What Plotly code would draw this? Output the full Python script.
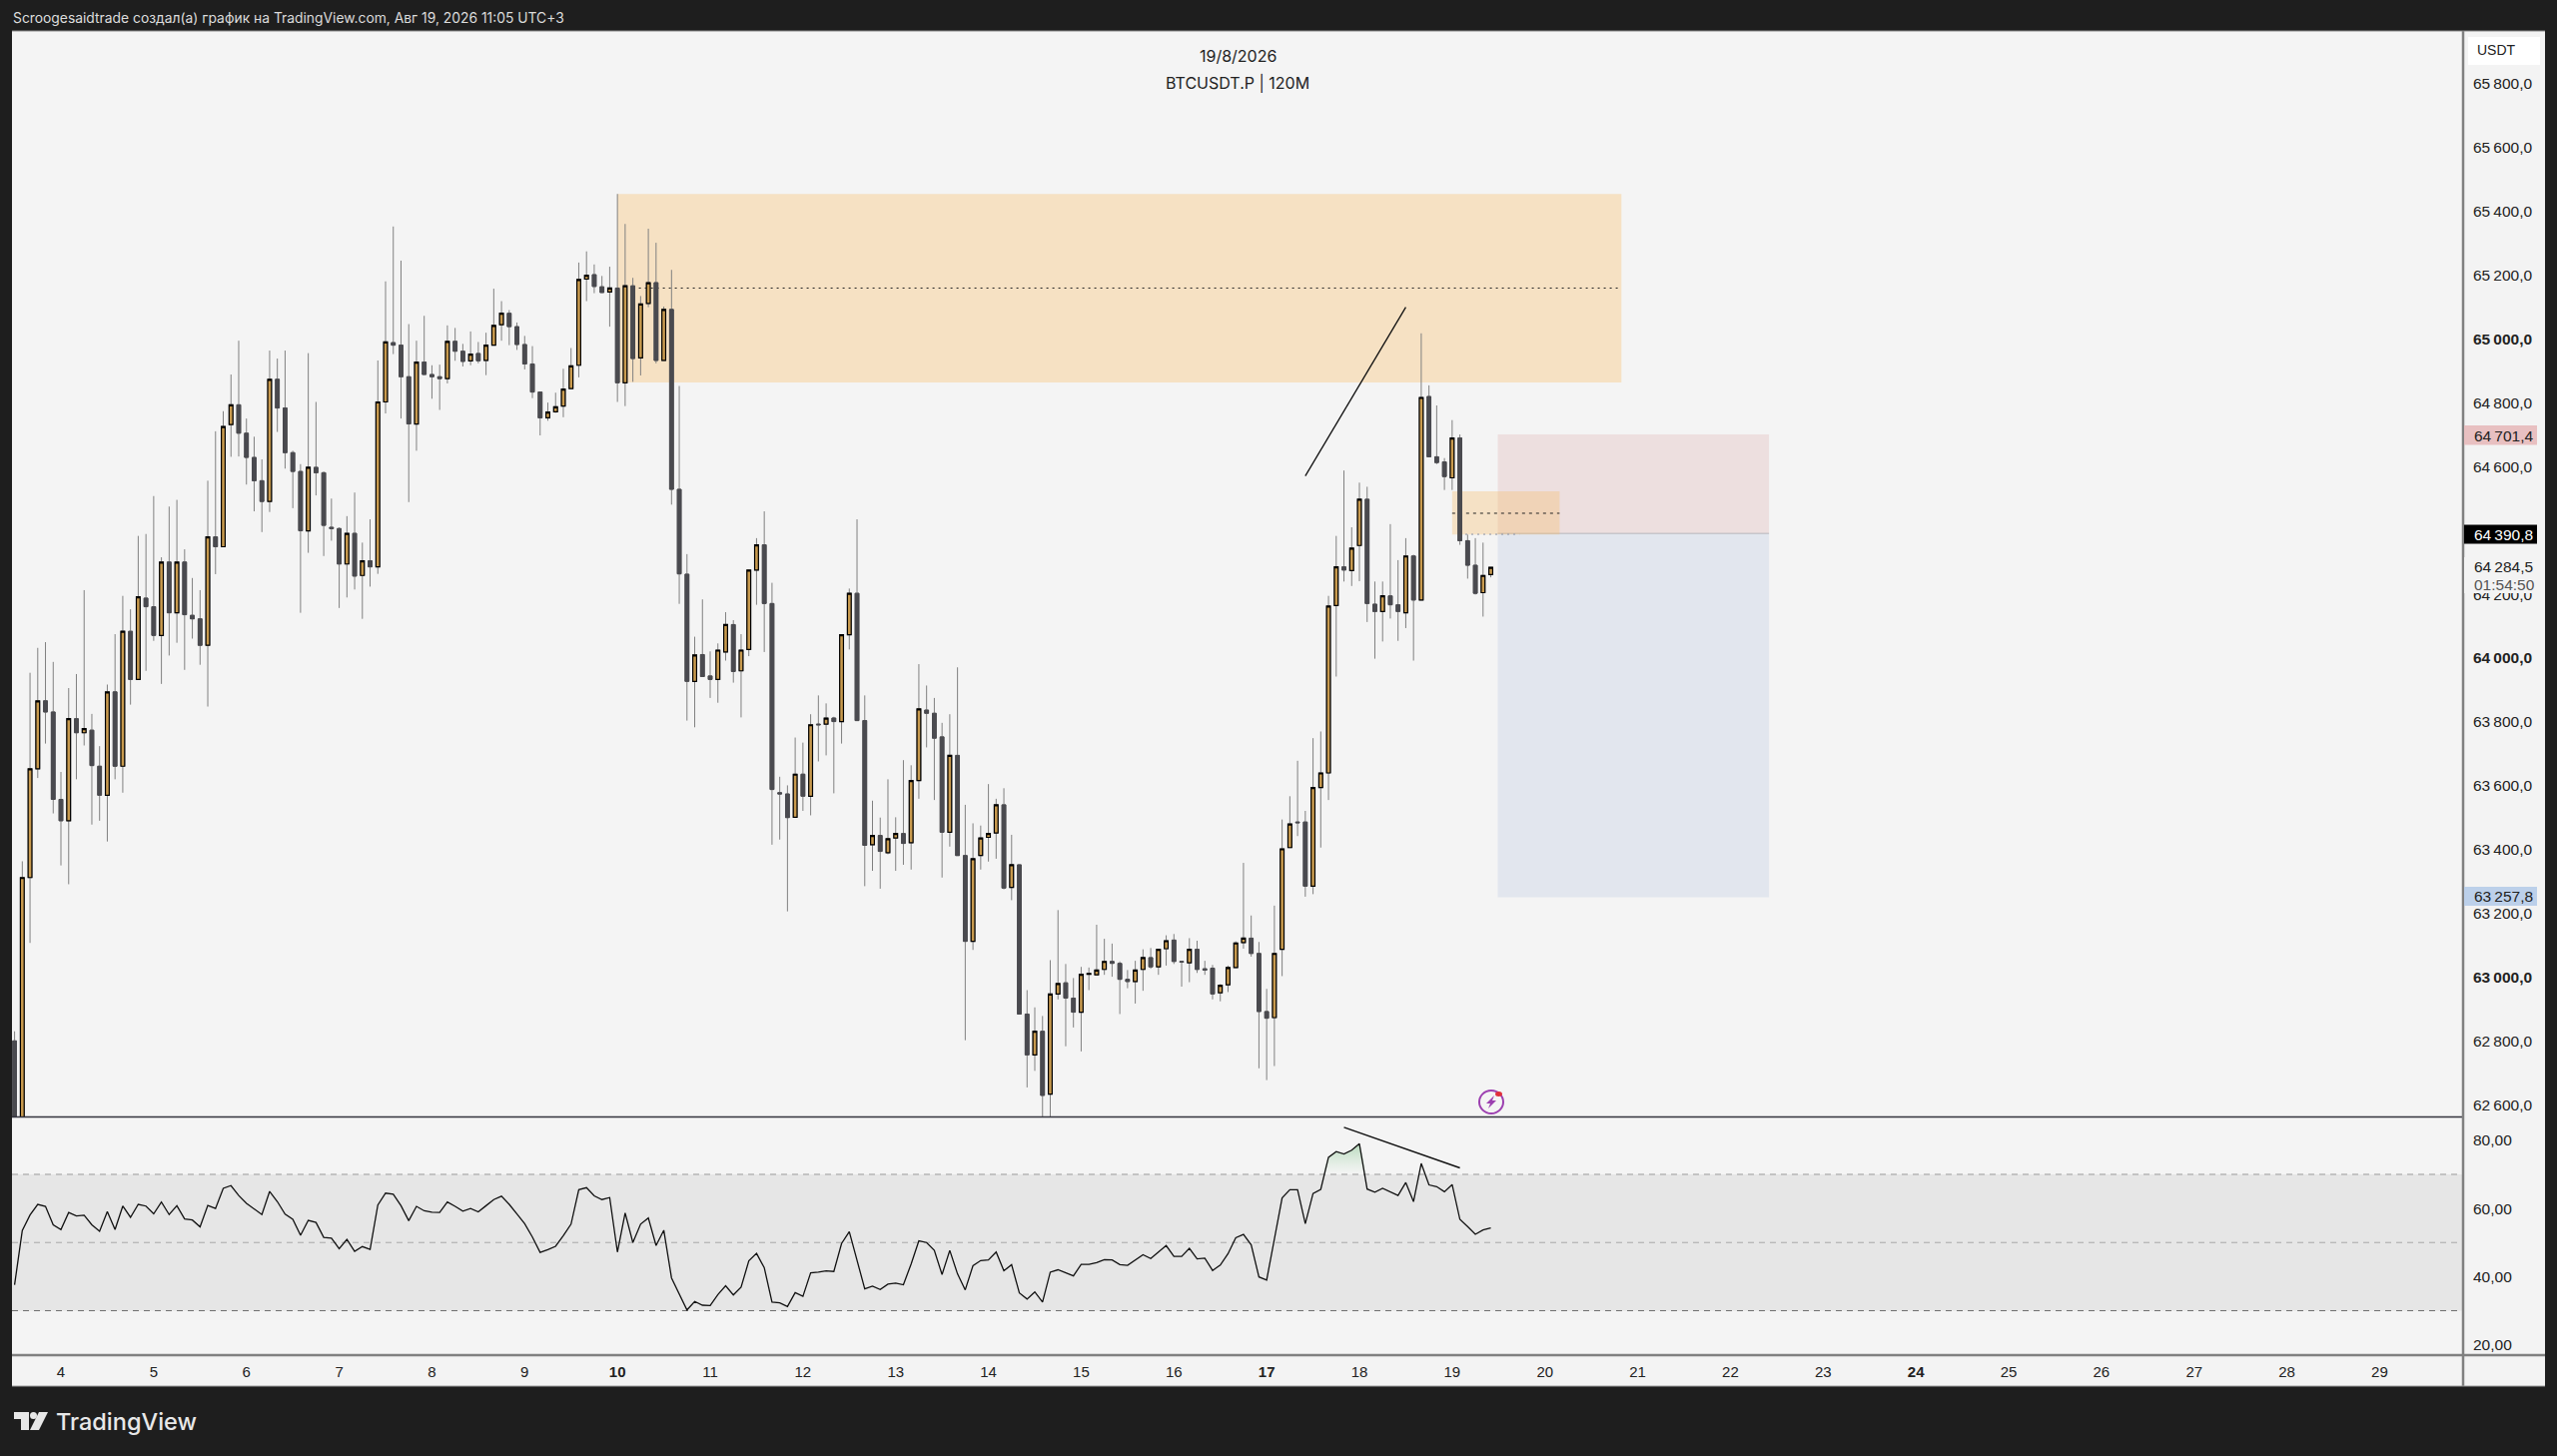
import numpy as np
import pandas as pd
import plotly.graph_objects as go

# 120M свечи BTCUSDT.P
opens = [
    62800, 62508, 63312, 63653, 63866, 63831, 63557, 63490, 63810, 63766,
    63774, 63661, 63570, 63894, 63661, 64084, 63933, 64188, 64161, 64071,
    64301, 64142, 64301, 64134, 64123, 64040, 64380, 64349, 64732, 64794,
    64705, 64629, 64556, 64491, 64874, 64784, 64644, 64585, 64399, 64598,
    64581, 64410, 64406, 64295, 64391, 64259, 64305, 64286, 64803, 64989,
    64981, 64882, 64734, 64928, 64889, 64882, 64876, 64993, 64962, 64932,
    64955, 64933, 64981, 65045, 65081, 65039, 64983, 64922, 64834, 64753,
    64772, 64790, 64845, 64918, 65188, 65202, 65164, 65148, 65160, 64863,
    65167, 64941, 65112, 65177, 64933, 65093, 64529, 64263, 63927, 64011,
    63944, 63933, 64019, 64105, 63960, 64027, 64276, 64355, 64171, 63578,
    63574, 63501, 63636, 63567, 63793, 63793, 63812, 63801, 64073, 64203,
    63804, 63415, 63444, 63390, 63436, 63450, 63421, 63616, 63837, 63827,
    63753, 63454, 63695, 63381, 63112, 63381, 63438, 63452, 63540, 63281,
    63352, 62884, 62756, 62830, 62633, 62947, 62982, 62934, 62890, 63009,
    63007, 63024, 63049, 63043, 62993, 62986, 63024, 63061, 63032, 63089,
    63116, 63049, 63045, 63087, 63026, 63028, 62951, 62976, 63030, 63108,
    63122, 63074, 62892, 62873, 63087, 63406, 63486, 63486, 63285, 63594,
    63640, 64165, 64286, 64274, 64353, 64498, 64169, 64146, 64195, 64167,
    64142, 64320, 64182, 64820, 64631, 64615, 64565, 64690, 64368, 64291, 64205, 64262,
]
closes = [
    62508, 63312, 63653, 63866, 63831, 63557, 63490, 63810, 63766, 63779,
    63663, 63570, 63894, 63661, 64084, 63933, 64192, 64161, 64071, 64301,
    64142, 64301, 64136, 64123, 64040, 64380, 64349, 64726, 64794, 64705,
    64629, 64556, 64491, 64874, 64784, 64644, 64585, 64399, 64598, 64581,
    64416, 64406, 64295, 64391, 64257, 64305, 64286, 64803, 64991, 64981,
    64882, 64734, 64928, 64889, 64882, 64876, 64993, 64962, 64930, 64953,
    64932, 64981, 65043, 65081, 65039, 64983, 64922, 64834, 64753, 64771,
    64788, 64843, 64916, 65187, 65200, 65165, 65146, 65160, 64863, 65167,
    64939, 65110, 65177, 64933, 65093, 64529, 64264, 63927, 64010, 63942,
    63933, 64025, 64105, 63958, 64025, 64276, 64355, 64171, 63588, 63574,
    63500, 63636, 63567, 63791, 63791, 63812, 63801, 64073, 64203, 63804,
    63413, 63444, 63394, 63434, 63450, 63419, 63616, 63841, 63827, 63749,
    63454, 63695, 63381, 63112, 63371, 63436, 63450, 63540, 63279, 63352,
    62884, 62756, 62830, 62629, 62947, 62980, 62934, 62890, 63009, 63011,
    63022, 63049, 63043, 62993, 62986, 63022, 63061, 63032, 63087, 63114,
    63049, 63047, 63087, 63024, 63022, 62947, 62974, 63030, 63107, 63122,
    63074, 62892, 62871, 63074, 63402, 63480, 63484, 63285, 63594, 63640,
    64163, 64286, 64276, 64345, 64498, 64171, 64146, 64195, 64167, 64146,
    64320, 64182, 64817, 64631, 64613, 64569, 64690, 64368, 64291, 64203, 64259, 64284.5,
]
highs = [
    62830, 63363, 63954, 64032, 64050, 63988, 63643, 63906, 63950, 64213,
    63825, 63724, 63917, 64075, 64195, 64153, 64383, 64389, 64508, 64316,
    64475, 64496, 64341, 64251, 64213, 64556, 64711, 64774, 64889, 64995,
    64751, 64694, 64623, 64964, 64939, 64964, 64650, 64608, 64956, 64803,
    64585, 64500, 64410, 64445, 64519, 64362, 64435, 64933, 65181, 65353,
    65246, 65047, 64995, 65073, 64918, 64920, 65043, 65035, 64985, 65024,
    64991, 65020, 65158, 65119, 65091, 65052, 65010, 64978, 64834, 64801,
    64832, 64907, 64972, 65240, 65275, 65234, 65198, 65227, 65455, 65361,
    65192, 65135, 65346, 65302, 65102, 65217, 64853, 64326, 64067, 64184,
    64021, 64046, 64144, 64119, 64075, 64276, 64376, 64460, 64236, 63628,
    63601, 63751, 63735, 63824, 63883, 63858, 63816, 64073, 64218, 64435,
    63883, 63553, 63500, 63620, 63501, 63680, 63664, 63981, 63914, 63875,
    63797, 63824, 63971, 63540, 63482, 63475, 63605, 63559, 63592, 63446,
    63352, 62959, 62905, 62878, 63053, 63210, 63041, 62997, 63032, 63030,
    63164, 63120, 63105, 63049, 63022, 63051, 63087, 63091, 63087, 63131,
    63135, 63051, 63122, 63114, 63051, 63038, 62978, 63036, 63112, 63358,
    63193, 63110, 62963, 63224, 63494, 63567, 63678, 63521, 63749, 63770,
    64195, 64383, 64588, 64410, 64550, 64537, 64240, 64240, 64420, 64307,
    64376, 64324, 65018, 64855, 64792, 64627, 64746, 64701, 64387, 64376, 64362, 64284.5,
]
lows = [
    62432, 62450, 63107, 63624, 63732, 63513, 63350, 63291, 63620, 63726,
    63478, 63490, 63425, 63620, 63578, 63854, 63933, 63960, 64054, 63919,
    64008, 64048, 63963, 64061, 63979, 63848, 64263, 64349, 64631, 64632,
    64544, 64460, 64395, 64458, 64709, 64594, 64470, 64142, 64330, 64510,
    64320, 64368, 64157, 64190, 64215, 64123, 64224, 64264, 64767, 64953,
    64751, 64489, 64650, 64889, 64813, 64778, 64861, 64932, 64914, 64918,
    64924, 64887, 64981, 64995, 64981, 64966, 64905, 64815, 64698, 64744,
    64769, 64755, 64845, 64880, 65119, 65144, 65146, 65039, 64803, 64790,
    64866, 64886, 65100, 64924, 64933, 64481, 64170, 63804, 63783, 63942,
    63875, 63860, 63992, 63923, 63814, 64006, 64167, 64019, 63415, 63431,
    63206, 63501, 63521, 63507, 63676, 63695, 63576, 63732, 64027, 63804,
    63285, 63333, 63277, 63385, 63333, 63352, 63337, 63559, 63720, 63555,
    63312, 63409, 63381, 62802, 63085, 63337, 63362, 63371, 63275, 63241,
    62884, 62654, 62706, 62547, 62547, 62930, 62783, 62842, 62767, 62959,
    63005, 63007, 63001, 62884, 62965, 62917, 62957, 63026, 63007, 63036,
    63041, 62970, 62984, 63013, 63007, 62930, 62924, 62953, 63030, 63089,
    63064, 62714, 62677, 62721, 63003, 63406, 63442, 63252, 63260, 63406,
    63555, 63942, 64240, 64226, 64241, 64113, 63998, 64052, 64124, 64054,
    64094, 63992, 64182, 64631, 64608, 64527, 64527, 64355, 64249, 64199, 64130, 64253,
]
rsi = [
    37.6, 53.5, 58.1, 61.2, 60.6, 55.2, 53.8, 58.8, 57.8, 58.0,
    55.2, 53.3, 59.1, 53.8, 60.7, 57.4, 61.2, 60.7, 58.4, 61.9,
    58.2, 60.8, 56.9, 56.6, 54.6, 60.9, 60.0, 65.9, 66.7, 63.8,
    61.5, 59.8, 58.2, 65.0, 62.0, 58.3, 56.8, 52.1, 56.5, 55.9,
    51.5, 51.3, 48.2, 50.9, 47.4, 48.8, 48.0, 61.0, 64.5, 64.2,
    60.8, 56.4, 60.6, 59.3, 58.9, 58.8, 61.9, 60.6, 59.2, 60.0,
    59.0, 60.8, 62.6, 63.6, 61.2, 58.4, 55.5, 51.6, 47.1, 47.9,
    48.9, 52.0, 55.4, 65.5, 66.1, 63.7, 62.6, 63.2, 47.2, 58.7,
    50.0, 55.4, 57.2, 49.1, 53.6, 39.6, 34.8, 30.2, 32.7, 31.6,
    31.5, 34.7, 37.3, 34.6, 36.9, 44.6, 46.8, 42.6, 32.5, 32.3,
    31.2, 35.3,
    34.2, 41.1, 41.3, 41.7, 41.5, 49.7, 53.2, 44.9, 36.4, 37.2,
    36.2, 37.8, 38.1, 37.6, 43.7, 50.5, 50.0, 47.7, 40.6, 47.7,
    40.8, 36.1, 43.2, 44.7, 44.9, 47.2, 41.7, 43.5, 35.2, 33.4,
    35.5, 32.5, 41.3, 42.0, 41.1, 40.2, 43.6, 43.6, 44.1, 45.0,
    44.9, 43.5, 43.3, 44.8, 46.4, 45.3, 47.3, 49.1, 45.9, 45.9,
    48.3, 45.2, 45.4, 41.8, 43.4, 46.7, 51.4, 52.4, 49.3, 39.9,
    39.0, 51.3, 63.1, 65.5, 65.5, 55.5, 64.4, 65.6, 75.0, 76.7,
    76.0, 77.1, 79.0, 65.7, 64.8, 65.9, 64.8, 63.8, 67.6, 62.0,
    73.2, 66.9, 66.4, 64.9, 67.0, 56.8, 54.7, 52.4, 53.7, 54.3,
]

day_labels = list(range(4, 30))
bold_days = [10, 17, 24]
price_ticks = list(range(62600, 65801, 200))
bold_prices = [63000, 64000, 65000]
rsi_ticks = [20, 40, 60, 80]

stop_price = 64701.4
entry_price = 64390.8
target_edge = 63250

W, H = 2560, 1458
BG = "#1e1e1e"
PANE = "#f4f4f4"
UP = "#c89a4e"
DOWN = "#4a4a4f"
AXIS_FONT = "Liberation Sans"

dates = pd.date_range("2026-08-03 12:00", periods=len(opens), freq="2h")
day_ticks = pd.date_range("2026-08-04", periods=len(day_labels), freq="D")


def px_x(x):
    return x / W


def px_y(y):
    return 1 - y / H


def box(x0, y0, x1, y1, color, layer="below"):
    return dict(type="rect", xref="paper", yref="paper", x0=px_x(x0), x1=px_x(x1),
                y0=px_y(y0), y1=px_y(y1), fillcolor=color, line_width=0, layer=layer)


def rule(x0, y0, x1, y1, color, width=1.5):
    return dict(type="line", xref="paper", yref="paper", x0=px_x(x0), x1=px_x(x1),
                y0=px_y(y0), y1=px_y(y1), line=dict(color=color, width=width), layer="above")


def zone(x0, x1, y0, y1, color):
    return dict(type="rect", xref="x", yref="y", x0=x0, x1=x1, y0=y0, y1=y1,
                fillcolor=color, line_width=0, layer="below")


def level(x0, x1, y, color, dash="2px,4px", width=1, yref="y", xref="x"):
    return dict(type="line", xref=xref, yref=yref, x0=x0, x1=x1, y0=y, y1=y,
                line=dict(color=color, width=width, dash=dash), layer="below")


def poly(points, color):
    path = "M " + " L ".join(f"{px_x(x)},{px_y(y)}" for x, y in points) + " Z"
    return dict(type="path", xref="paper", yref="paper", path=path, fillcolor=color,
                line_width=0, layer="above")


def label(x, y, text, size=15.5, color="#222222", font=AXIS_FONT, anchor="left", weight="normal"):
    return dict(xref="paper", yref="paper", x=px_x(x), y=px_y(y), text=text, showarrow=False,
                xanchor=anchor, yanchor="middle", align=anchor,
                font=dict(family=font, size=size, color=color, weight=weight))


fig = go.Figure()

# фитили отдельно, тела поверх с чёрной обводкой
wick = dict(line=dict(color="#808080", width=1), fillcolor="#808080")
fig.add_trace(go.Candlestick(x=dates, open=opens, high=highs, low=lows, close=closes,
                             increasing=wick, decreasing=wick, whiskerwidth=0,
                             hoverinfo="skip", showlegend=False))
body_hi = np.maximum(opens, closes)
body_lo = np.minimum(opens, closes)
fig.add_trace(go.Candlestick(x=dates, open=opens, high=body_hi, low=body_lo, close=closes,
                             increasing=dict(line=dict(color="#000000", width=1.2), fillcolor=UP),
                             decreasing=dict(line=dict(color=DOWN, width=1), fillcolor=DOWN),
                             whiskerwidth=0, hoverinfo="skip", showlegend=False))

# RSI: заливка выше 70 и сама линия
rsi_arr = np.array(rsi)
ob = slice(169, 176)
fig.add_trace(go.Scatter(x=dates[ob], y=np.full(7, 70.0), mode="lines", line=dict(width=0),
                         xaxis="x2", yaxis="y2", hoverinfo="skip", showlegend=False))
fig.add_trace(go.Scatter(x=dates[ob], y=np.maximum(rsi_arr[ob], 70), mode="lines", line=dict(width=0),
                         fill="tonexty",
                         fillgradient=dict(type="vertical", colorscale=[[0, "rgba(170,215,175,0)"],
                                                                        [1, "rgba(120,190,130,0.5)"]]),
                         xaxis="x2", yaxis="y2", hoverinfo="skip", showlegend=False))
fig.add_trace(go.Scatter(x=dates, y=rsi, mode="lines", line=dict(color="#111111", width=1.3),
                         xaxis="x2", yaxis="y2", hoverinfo="skip", showlegend=False))

# линии тренда
fig.add_trace(go.Scatter(x=[dates[167], dates[180]], y=[64571, 65100], mode="lines",
                         line=dict(color="#111111", width=1.3), hoverinfo="skip", showlegend=False))
fig.add_trace(go.Scatter(x=[dates[172], dates[187]], y=[83.8, 71.9], mode="lines",
                         line=dict(color="#111111", width=1.5), xaxis="x2", yaxis="y2",
                         hoverinfo="skip", showlegend=False))

shapes = [
    # полосы шкал
    box(2466, 31, 2548, 1388, "#f3f3f3"),
    box(12, 1357, 2548, 1388, "#f3f3f3"),
    # зоны на графике
    zone(dates[78], "2026-08-20 19:48", 64864, 65455, "#f6e1c3"),
    level(dates[80], "2026-08-20 19:48", 65160, "#222222"),
    zone("2026-08-19 11:48", "2026-08-22 10:00", entry_price, stop_price, "#eddfdf"),
    zone("2026-08-19 11:48", "2026-08-22 10:00", target_edge, entry_price, "#e2e6ee"),
    level("2026-08-19 11:48", "2026-08-22 10:00", entry_price, "#b5b5bb", dash="solid"),
    zone(dates[186], "2026-08-20 03:48", 64387, 64523, "rgba(247,190,110,0.35)"),
    level(dates[186], "2026-08-20 03:48", 64454, "#222222", dash="3px,4px"),
    level("2026-08-19 03:24", "2026-08-19 17:24", 64388, "#8a93a8"),
    # RSI
    dict(type="rect", xref="paper", yref="y2", x0=px_x(12), x1=px_x(2466), y0=30, y1=70,
         fillcolor="#e6e6e6", line_width=0, layer="below"),
    level(px_x(12), px_x(2466), 70, "#9a9a9a", dash="6px,5px", yref="y2", xref="paper"),
    level(px_x(12), px_x(2466), 50, "#a8a8a8", dash="6px,5px", yref="y2", xref="paper"),
    level(px_x(12), px_x(2466), 30, "#6e6e6e", dash="6px,5px", yref="y2", xref="paper"),
    # рамки
    rule(12, 1118.5, 2466, 1118.5, "#33333d"),
    rule(12, 1357, 2548, 1357, "#808080", 2.5),
    rule(2466, 31, 2466, 1388, "#808080", 2.5),
    rule(12, 31, 2548, 31, "#8a8a8a", 1),
    rule(12, 1388, 2548, 1388, "#9a9a9a", 1),
    # плашка USDT
    box(2471, 37, 2543, 65, "#ffffff", layer="above"),
    # плашки цен справа
    box(2467, 426, 2540, 445.5, "#e8c0c1", layer="above"),
    box(2467, 525.5, 2540, 544.5, "#000000", layer="above"),
    box(2467, 558, 2540, 594, "#f3f3f3", layer="above"),
    box(2467, 888, 2540, 907, "#bcd0ea", layer="above"),
    # значок молнии
    dict(type="circle", xref="paper", yref="paper", x0=px_x(1481), x1=px_x(1505),
         y0=px_y(1092), y1=px_y(1115), fillcolor="rgba(0,0,0,0)",
         line=dict(color="#9c3fb0", width=2), layer="above"),
    dict(type="circle", xref="paper", yref="paper", x0=px_x(1497), x1=px_x(1504),
         y0=px_y(1093), y1=px_y(1098), fillcolor="#e0303a", line_width=0, layer="above"),
    poly([(1496, 1097), (1488, 1105), (1492, 1105), (1490, 1110), (1498, 1102), (1494, 1102)], "#9c3fb0"),
    # логотип
    poly([(14, 1414), (29, 1414), (29, 1432), (21, 1432), (21, 1421), (14, 1421)], "#e8e8e8"),
    dict(type="circle", xref="paper", yref="paper", x0=px_x(30), x1=px_x(37),
         y0=px_y(1414), y1=px_y(1421), fillcolor="#e8e8e8", line_width=0, layer="above"),
    poly([(39, 1414), (48, 1414), (39, 1432), (30, 1432)], "#e8e8e8"),
]

annotations = [
    label(11, 18, "Scroogesaidtrade создал(а) график на TradingView.com, Авг 19, 2026 11:05 UTC+3",
          size=13.85, color="#dcdcdc", font="Inter"),
    label(1239, 56, "19/8/2026", size=16, font="Inter", anchor="center"),
    label(1239, 83, "BTCUSDT.P | 120M", size=16, font="Inter", anchor="center"),
    label(2499, 50, "USDT", size=14, anchor="center"),
    label(2475, 436, "64\u2009701,4"),
    label(2475, 535, "64\u2009390,8", color="#ffffff"),
    label(2475, 568, "64\u2009284,5"),
    label(2475, 585, "01:54:50", color="#555555"),
    label(2475, 897, "63\u2009257,8"),
    label(54, 1423, "TradingView", size=23.5, color="#e8e8e8", font="Inter", weight=500),
]

fmt_price = lambda p: f"{p // 1000}\u2009{p % 1000:03d},0"

fig.update_layout(
    width=W, height=H, margin=dict(l=0, r=0, t=0, b=0, pad=0),
    paper_bgcolor=BG, plot_bgcolor=PANE, showlegend=False,
    xaxis=dict(domain=[px_x(12), px_x(2466)], range=["2026-08-03 11:20", "2026-08-29 21:36"],
               anchor="y", showticklabels=False, showgrid=False, zeroline=False, ticks="",
               rangeslider=dict(visible=False)),
    xaxis2=dict(domain=[px_x(12), px_x(2466)], range=["2026-08-03 11:20", "2026-08-29 21:36"],
                anchor="y2", tickmode="array", tickvals=day_ticks,
                ticktext=[f"<b>{d}</b>" if d in bold_days else str(d) for d in day_labels],
                showgrid=False, zeroline=False, ticks="", ticklabelstandoff=6,
                tickfont=dict(family=AXIS_FONT, size=15, color="#222222")),
    yaxis=dict(domain=[px_y(1118), px_y(31)], range=[62563, 65966], side="right", anchor="x",
               tickmode="array", tickvals=price_ticks,
               ticktext=[f"<b>{fmt_price(p)}</b>" if p in bold_prices else fmt_price(p) for p in price_ticks],
               showgrid=False, zeroline=False, ticks="", ticklabelstandoff=9,
               tickfont=dict(family=AXIS_FONT, size=15.5, color="#222222")),
    yaxis2=dict(domain=[px_y(1357), px_y(1119)], range=[16.95, 86.7], side="right", anchor="x2",
                tickmode="array", tickvals=rsi_ticks, ticktext=[f"{v},00" for v in rsi_ticks],
                showgrid=False, zeroline=False, ticks="", ticklabelstandoff=9,
                tickfont=dict(family=AXIS_FONT, size=15.5, color="#222222")),
    shapes=shapes, annotations=annotations,
)

fig.write_html("out.html", config=dict(displayModeBar=False),
               post_script="document.body.style.margin='0';document.body.style.background='#1e1e1e';")
